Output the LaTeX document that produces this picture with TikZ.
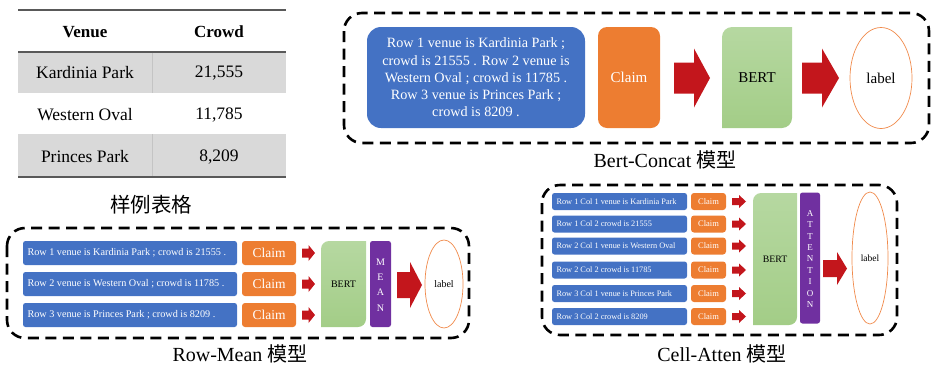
\documentclass[tikz,border=0pt]{standalone}
\usepackage{fontspec}
\setmainfont{Liberation Serif}
\newfontfamily\cjk{Noto Sans CJK SC}
\usetikzlibrary{shapes.geometric}
\definecolor{cblue}{HTML}{4472C4}
\definecolor{corange}{HTML}{ED7D31}
\definecolor{cgreenT}{HTML}{B6D8A1}
\definecolor{cgreenB}{HTML}{A3CD87}
\definecolor{cpurple}{HTML}{7030A0}
\definecolor{cred}{HTML}{C3161C}
\definecolor{cgrey}{HTML}{D9D9D9}
\definecolor{crule}{HTML}{595959}
\definecolor{cellipse}{HTML}{F08A4B}
\definecolor{cdiv}{HTML}{C4C4C4}

\newcommand\fs[2]{\fontsize{#1}{#2}\selectfont}

% x1 x2 xhead yc bodyhalf headhalf
\newcommand\blockarr[6]{%
  \fill[cred] (#1,{#4-#5}) -- (#3,{#4-#5}) -- (#3,{#4-#6}) -- (#2,#4) -- (#3,{#4+#6}) -- (#3,{#4+#5}) -- (#1,{#4+#5}) -- cycle;}

% x1 y1 x2 y2 r : green box, top-left and bottom-right corners rounded
\newcommand\bertbox[5]{%
  \shade[top color=cgreenT, bottom color=cgreenB] (#1,#4) -- (#1,{#2+#5}) .. controls (#1,{#2+0.45*#5}) and ({#1+0.45*#5},#2) .. ({#1+#5},#2) -- (#3,#2) -- (#3,{#4-#5}) .. controls (#3,{#4-0.45*#5}) and ({#3-0.45*#5},#4) .. ({#3-#5},#4) -- cycle;}

\tikzset{
  dbox/.style={draw=black, line width=2.6pt, dash pattern=on 11pt off 6.5pt, rounded corners=18pt},
  rowbox/.style={fill=cblue, rounded corners=2.5pt, inner sep=0pt},
  rowtxt/.style={text=white, inner sep=0pt, anchor=west},
  claimbox/.style={fill=corange, rounded corners=3pt, text=white, inner sep=0pt},
  purplebox/.style={fill=cpurple, rounded corners=2.5pt, text=white, inner sep=0pt, align=center},
  lab/.style={ellipse, draw=cellipse, line width=0.7pt, inner sep=0pt},
  tabtxt/.style={font=\fs{17.5}{20}},
  tabhead/.style={font=\fs{17}{20}\bfseries},
  captxt/.style={font=\fs{20}{24}, inner sep=0pt},
}

\begin{document}
\begin{tikzpicture}[x=1pt, y=-1pt]
\useasboundingbox (0,0) rectangle (932,365);

% ---------------- table ----------------
\fill[cgrey] (18,52) rectangle (286,93);
\fill[cgrey] (18,134) rectangle (286,177);
\draw[cdiv, line width=0.6pt] (152,52) -- (152,93);
\draw[cdiv, line width=0.6pt] (152,134) -- (152,177);
\draw[crule, line width=2pt] (18,10) -- (286,10);
\draw[crule, line width=1.6pt] (18,52) -- (286,52);
\draw[crule, line width=1.6pt] (18,177) -- (286,177);
\node[tabhead] (th1) at (85,32) {Venue};
\node[tabhead] (th2) at (219,32) {Crowd};
\node[tabtxt] (t11) at (85,73) {Kardinia Park};
\node[tabtxt] (t12) at (219,73) {21,555};
\node[tabtxt] (t21) at (85,115) {Western Oval};
\node[tabtxt] (t22) at (219,115) {11,785};
\node[tabtxt] (t31) at (85,157) {Princes Park};
\node[tabtxt] (t32) at (219,157) {8,209};
\node[inner sep=0pt] (captab) at (151,205) {\fs{20.5}{24}\cjk 样例表格};

% ---------------- Bert-Concat ----------------
\draw[dbox] (344,13) rectangle (929,143);
\node[fill=cblue, rounded corners=14pt, text=white, inner sep=0pt,
      minimum width=218pt, minimum height=101pt, align=center,
      font=\fs{14.2}{17.2}] (bcrow) at (476,77.5)
  {Row 1 venue is Kardinia Park ;\\crowd is 21555 . Row 2 venue is\\Western Oval ; crowd is 11785 .\\Row 3 venue is Princes Park ;\\crowd is 8209 .};
\node[claimbox, rounded corners=9pt, minimum width=62pt, minimum height=101pt, font=\fs{15}{18}] (bcclaim) at (629,77.5) {Claim};
\blockarr{674}{710}{694}{78}{15.5}{29.5}
\bertbox{722}{27}{792}{128}{10}
\node[font=\fs{15}{18}] (bcbert) at (757,77.5) {BERT};
\blockarr{802}{839}{822}{78}{15.5}{29.5}
\node[lab, minimum width=62pt, minimum height=101pt, font=\fs{15}{18}] (bclabel) at (881,78) {label};
\node[captxt] (capbc) at (665,160) {Bert-Concat {\cjk 模型}};

% ---------------- Row-Mean ----------------
\draw[dbox] (7,228) rectangle (469,338);
\foreach \y/\t [count=\i] in {253/{Row 1 venue is Kardinia Park ; crowd is 21555 .},
                   284/{Row 2 venue is Western Oval ; crowd is 11785 .},
                   315/{Row 3 venue is Princes Park ; crowd is 8209 .}}{
  \node[rowbox, minimum width=214pt, minimum height=24pt] (rm\i) at (130,\y) {};
  \node[rowtxt, font=\fs{10.2}{12}] (rmt\i) at ([xshift=4.5pt]rm\i.west) {\t};
  \node[claimbox, minimum width=54pt, minimum height=24pt, font=\fs{13.5}{16}] (rmc\i) at (269,\y) {Claim};
  \blockarr{302}{315}{308.5}{\y}{4.5}{8}
}
\bertbox{321}{241}{366}{327}{8}
\node[font=\fs{10}{12}] (rmbert) at (343.5,284) {BERT};
\node[purplebox, minimum width=21pt, minimum height=86pt] (rmmeanbox) at (380.5,284) {};
\node[text=white, align=center, inner sep=0pt, font=\fs{10}{15.3}] (rmmean) at (380.5,285) {M\\E\\A\\N};
\blockarr{397}{422}{410}{285}{13}{23}
\node[lab, minimum width=38pt, minimum height=88pt, font=\fs{10}{12}] (rmlabel) at (444,284) {label};
\node[captxt] (caprm) at (240,354) {Row-Mean {\cjk 模型}};

% ---------------- Cell-Atten ----------------
\draw[dbox] (542,185) rectangle (897,335);
\foreach \y/\t [count=\i] in {201.5/{Row 1 Col 1 venue is Kardinia Park},
                   224/{Row 1 Col 2 crowd is 21555},
                   246/{Row 2 Col 1 venue is Western Oval},
                   270/{Row 2 Col 2 crowd is 11785},
                   293.5/{Row 3 Col 1 venue is Princes Park},
                   316.5/{Row 3 Col 2 crowd is 8209}}{
  \node[rowbox, minimum width=135pt, minimum height=17pt] (ca\i) at (619.5,\y) {};
  \node[rowtxt, font=\fs{8.3}{10}] (cat\i) at ([xshift=4.5pt]ca\i.west) {\t};
  \node[claimbox, minimum width=35pt, minimum height=17pt, font=\fs{8.5}{10}] (cac\i) at (708.5,\y) {Claim};
  \blockarr{732}{746}{739}{\y}{3.5}{6.5}
}
\bertbox{753}{193}{797}{325}{8}
\node[font=\fs{9.8}{12}] (cabert) at (775,259) {BERT};
\node[purplebox, minimum width=20pt, minimum height=131pt] (caattbox) at (810,258) {};
\node[text=white, align=center, inner sep=0pt, font=\fs{9}{11.4}] (caatt) at (810,259) {A\\T\\T\\E\\N\\T\\I\\O\\N};
\blockarr{823}{847}{837}{268.5}{8.5}{16.5}
\node[lab, minimum width=36pt, minimum height=132pt, font=\fs{9.5}{12}] (calabel) at (870,258) {label};
\node[captxt] (capca) at (722,354) {Cell-Atten {\cjk 模型}};
\end{tikzpicture}
\end{document}
